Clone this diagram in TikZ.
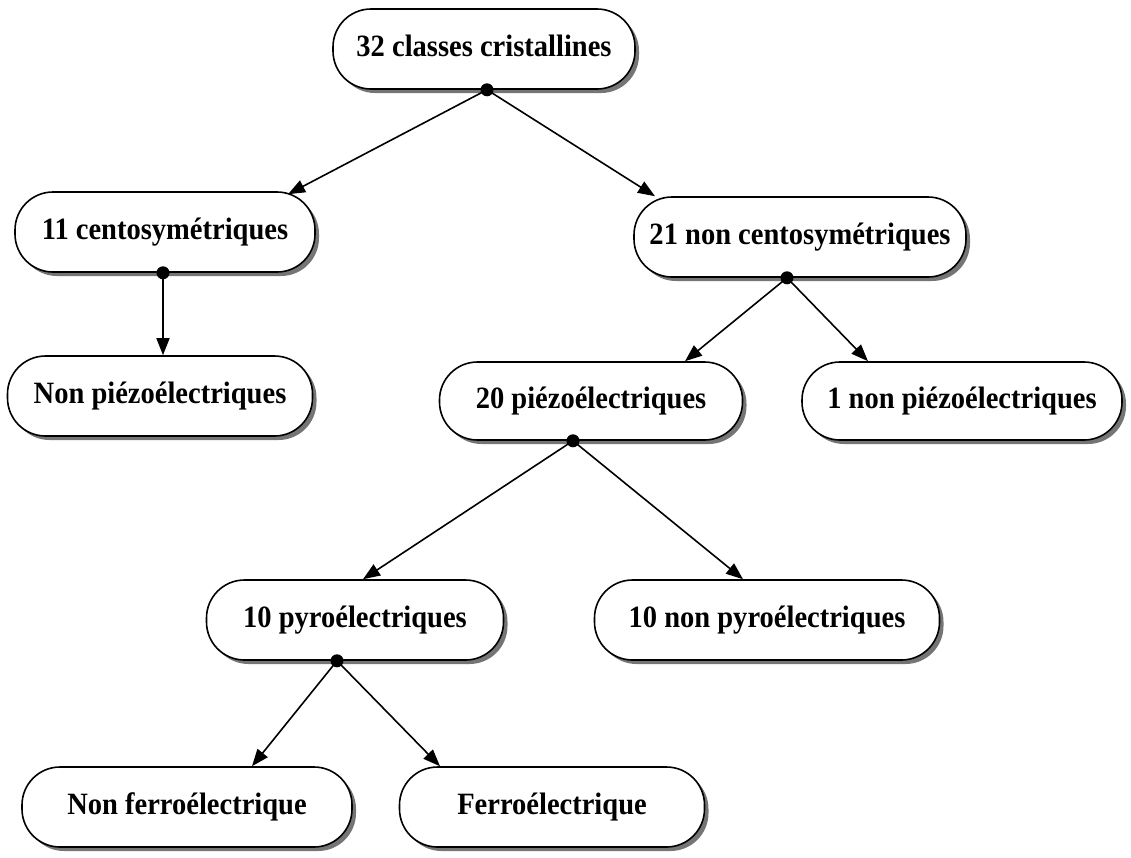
\documentclass[tikz,border=0pt]{standalone}
\usepackage{fontspec}
\setmainfont{Liberation Serif}[FakeStretch=0.92]
\usepackage{tikz}
\usetikzlibrary{arrows.meta}
\usetikzlibrary{shadows}
\definecolor{ombre}{rgb}{0.4,0.4,0.4}

\tikzset{
  classe/.style={draw=black,line width=1.6pt,fill=white,rounded corners=38pt,
    minimum height=80pt,inner sep=0pt,text height=22pt,text depth=8pt,
    font=\fontsize{31}{36}\selectfont\bfseries,
    drop shadow={shadow xshift=4pt,shadow yshift=-4pt,fill=ombre,opacity=0.9}},
  fleche/.style={line width=1.6pt,-{Triangle[length=17pt,width=13pt]}},
  point/.style={circle,fill=black,inner sep=0pt,minimum size=13pt}
}

\begin{document}
\begin{tikzpicture}[line cap=round,line join=round,x=1pt,y=-1pt]
\useasboundingbox (0,0) rectangle (1131,857);
% les classes
\node[classe,minimum width=302pt] (n32) at (484,49) {32 classes cristallines};
\node[classe,minimum width=300pt] (n11) at (165,232) {11 centosymétriques};
\node[classe,minimum width=305pt] (nNP) at (160,396) {Non piézoélectriques};
\node[classe,minimum width=332pt] (n21) at (800,237) {21 non centosymétriques};
\node[classe,minimum width=303pt,minimum height=78pt] (n20) at (591,401) {20 piézoélectriques};
\node[classe,minimum width=320pt,minimum height=78pt] (n1) at (962,401) {1 non piézoélectriques};
\node[classe,minimum width=297pt] (n10p) at (355,620) {10 pyroélectriques};
\node[classe,minimum width=345pt] (n10np) at (767,620) {10 non pyroélectriques};
\node[classe,minimum width=330pt] (nNF) at (187,807) {Non ferroélectrique};
\node[classe,minimum width=305pt] (nF) at (552,807) {Ferroélectrique};
% les points de depart
\node[point] (d32) at ([xshift=3pt]n32.south) {};
\node[point] (d11) at ([xshift=-2pt]n11.south) {};
\node[point] (d21) at ([xshift=-13pt]n21.south) {};
\node[point] (d20) at ([xshift=-18pt]n20.south) {};
\node[point] (d10) at ([xshift=-18pt]n10p.south) {};
% les fleches
\draw[fleche] (d32.center) -- ([xshift=123pt,yshift=-3pt]n11.north);
\draw[fleche] (d32.center) -- ([xshift=-145pt]n21.north);
\draw[fleche] (d11.center) -- ([xshift=3pt]nNP.north);
\draw[fleche] (d21.center) -- ([xshift=94pt]n20.north);
\draw[fleche] (d21.center) -- ([xshift=-94pt]n1.north);
\draw[fleche] (d20.center) -- ([xshift=8pt]n10p.north);
\draw[fleche] (d20.center) -- ([xshift=-24pt]n10np.north);
\draw[fleche] (d10.center) -- ([xshift=65pt]nNF.north);
\draw[fleche] (d10.center) -- ([xshift=-112pt]nF.north);
\end{tikzpicture}
\end{document}
